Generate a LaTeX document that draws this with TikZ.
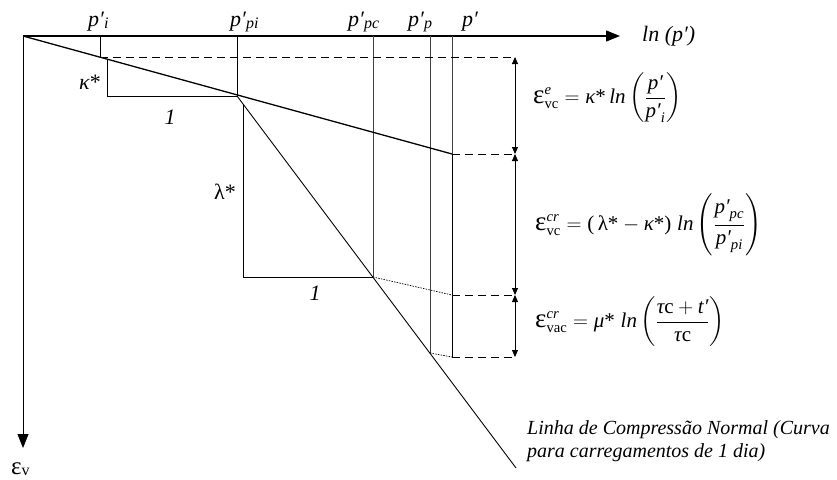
\documentclass[tikz,border=0pt]{standalone}
\usepackage{amsmath}
\usepackage{fontspec}
\setmainfont{Liberation Serif}
\usetikzlibrary{arrows.meta}
\newcommand{\ti}[1]{\text{\itshape #1}}
\newcommand{\tu}[1]{\text{\upshape #1}}
\newcommand{\eps}{\text{\upshape\fontsize{27}{27}\selectfont ε}}
\newcommand{\lsub}[1]{\raisebox{-2pt}{\fontsize{16}{16}\selectfont\itshape #1}}
\begin{document}
\begin{tikzpicture}[x=1pt,y=-1pt,
  thin line/.style={line width=0.9pt},
  axis/.style={line width=1.3pt},
  vline/.style={line width=0.9pt, draw=black!75},
  dsh/.style={line width=0.9pt, dash pattern=on 8pt off 5pt},
  dotl/.style={line width=0.7pt, dash pattern=on 1.5pt off 1.2pt},
  dim/.style={line width=0.9pt, {Triangle[length=7pt,width=6pt]}-{Triangle[length=7pt,width=6pt]}},
  lbl/.style={font=\fontsize{22}{26}\selectfont\itshape, inner sep=0pt},
  eqn/.style={font=\fontsize{21}{25}\selectfont, inner sep=0pt, anchor=west},
  note/.style={font=\fontsize{20}{24}\selectfont\itshape, inner sep=0pt, anchor=base west},
]
\useasboundingbox (0,0) rectangle (837,479);
% points
\coordinate (O) at (23,36);
\coordinate (Xend) at (620,36);
\coordinate (Yend) at (23,448);
\coordinate (PiT) at (100,36);   \coordinate (PiB) at (100,57);
\coordinate (PpiT) at (237,36);  \coordinate (Ppi) at (237,96);
\coordinate (PpcT) at (373,36);  \coordinate (Ppc) at (373,277);
\coordinate (PpT) at (430,36);   \coordinate (PpB) at (430,353);
\coordinate (PT) at (452,36);    \coordinate (Pk) at (452,154);
\coordinate (Pd) at (452,295);   \coordinate (Pb) at (452,357);
\coordinate (Nend) at (516,468);
\coordinate (K1) at (107,59);    \coordinate (K2) at (107,96);
\coordinate (L1) at (243,104);   \coordinate (L2) at (243,277);
\coordinate (D1) at (515,57);    \coordinate (D2) at (515,154);
\coordinate (D3) at (515,295);   \coordinate (D4) at (515,357);
% axes
\draw[axis, -{Triangle[length=14pt,width=11pt]}] (O) -- (Xend);
\draw[thin line, -{Triangle[length=14pt,width=11pt]}] (O) -- (Yend);
% verticals
\draw[thin line] (PiT) -- (PiB);
\draw[thin line] (PpiT) -- (Ppi);
\draw[vline] (PpcT) -- (Ppc);
\draw[vline] (PpT) -- (PpB);
\draw[vline] (PT) -- (Pk);
\draw[thin line] (Pk) -- (Pb);
% kappa line and NCL
\draw[axis] (O) -- (Pk);
\draw[thin line] (Ppi) -- (Nend);
% triangles
\draw[thin line] (K1) -- (K2) -- (Ppi);
\draw[thin line] (L1) -- (L2) -- (Ppc);
% dotted
\draw[dotl] (Ppc) -- (Pd);
\draw[dotl] (PpB) -- (Pb);
% dashed
\draw[dsh] (PiB) -- (D1);
\draw[dsh] (Pk) -- (D2);
\draw[dsh] (Pd) -- (D3);
\draw[dsh] (Pb) -- (D4);
% dimensions
\draw[dim] (D1) -- (D2);
\draw[dim] (D2) -- (D3);
\draw[dim] (D3) -- (D4);
% labels
\node[lbl, anchor=base west] (lpi) at (88,26) {p′\lsub{i}};
\node[lbl, anchor=base west] (lppi) at (230,26) {p′\lsub{pi}};
\node[lbl, anchor=base west] (lppc) at (348,26) {p′\lsub{pc}};
\node[lbl, anchor=base west] (lpp) at (408,26) {p′\lsub{p}};
\node[lbl, anchor=base west] (lp) at (462,26) {p′};
\node[lbl, anchor=west] (lln) at (642,36) {ln (p′)};
\node[lbl] (lk) at (90,82) {κ\upshape *};
\node[lbl] (l1a) at (170,117) {1};
\node[lbl] (ll) at (225,192) {\upshape λ*};
\node[lbl] (l1b) at (315,293) {1};
\node[inner sep=0pt, anchor=base west, font=\fontsize{25}{28}\selectfont] (lev) at (11,474) {ε\raisebox{-1pt}{\fontsize{16}{16}\selectfont v}};
% equations
\node[eqn] (eq1) at (533,98) {$\displaystyle \eps^{\ti{e}}_{\tu{vc}} = \ti{κ}\tu{*}\,\ti{ln}\left(\frac{\ti{p′}}{\ti{p′}_{\ti{i}}}\right)$};
\node[eqn] (eq2) at (535,225) {$\displaystyle \eps^{\ti{cr}}_{\tu{vc}} = \tu{(}\,\tu{λ*}-\ti{κ}\tu{*)}\;\ti{ln}\left(\frac{\ti{p′}_{\ti{pc}}}{\ti{p′}_{\ti{pi}}}\right)$};
\node[eqn] (eq3) at (535,322) {$\displaystyle \eps^{\ti{cr}}_{\tu{vac}} = \ti{μ}\tu{*}\;\ti{ln}\left(\frac{\ti{τ}\tu{c}+\ti{t′}}{\ti{τ}\tu{c}}\right)$};
% note
\node[note] (n1) at (527,434) {Linha de Compressão Normal (Curva};
\node[note] (n2) at (527,457) {para carregamentos de 1 dia)};
\end{tikzpicture}
\end{document}
